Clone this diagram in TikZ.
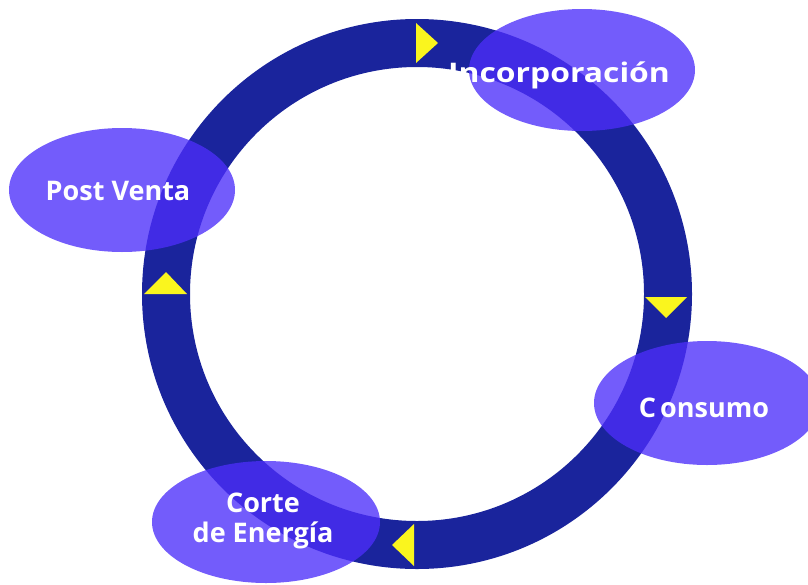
\documentclass[tikz,border=0pt]{standalone}
\usepackage{fontspec}
\setmainfont{Open Sans}
\usepackage{tikz}
\usetikzlibrary{positioning,shapes.geometric}
\usepackage{xcolor}
\definecolor{anillo}{RGB}{26,36,156}
\definecolor{lila}{RGB}{76,46,250}
\definecolor{flecha}{RGB}{250,245,30}

\begin{document}
\begin{tikzpicture}[x=1pt,y=-1pt,
    etapa/.style={ellipse, fill=lila, fill opacity=0.78, draw=none, inner sep=0pt,
      minimum width=226pt, minimum height=122pt},
    texto/.style={text=white, font=\bfseries\fontsize{27}{30}\selectfont, align=center, inner sep=0pt},
    punta/.style={fill=flecha}]
  \useasboundingbox (0,0) rectangle (808,584);

  % anillo
  \node[circle, draw=anillo, line width=48pt, minimum size=502pt, inner sep=0pt, outer sep=0pt] (ring) at (417,294) {};

  % flechas del ciclo
  \fill[punta] ([shift={(-1,-20)}]ring.north) -- ++(0,40) -- ++(22,-20) -- cycle;
  \fill[punta] ([shift={(-23,3)}]ring.east) -- ++(42,0) -- ++(-21,21) -- cycle;
  \fill[punta] ([shift={(-3,-21)}]ring.south) -- ++(0,42) -- ++(-22,-21) -- cycle;
  \fill[punta] ([shift={(-22,0)}]ring.west) -- ++(43,0) -- ++(-21,-22) -- cycle;

  % etapas
  \node[etapa] (inc) at (582,70) {};
  \node[etapa, minimum height=124pt] (post) at (122,190) {};
  \node[etapa, minimum height=124pt] (cons) at (707,403) {};
  \node[etapa, minimum width=228pt] (corte) at (266,522) {};

  % textos
  \node[texto, anchor=base, font=\bfseries\fontsize{27}{30}\selectfont\addfontfeature{FakeStretch=1.18}] (incT) at (559,82) {Incorporación};
  \node[texto, anchor=base] (postT) at (118,200) {Post Venta};
  \node[texto, anchor=base] (consT) at (704,417) {C\hspace{0.15em}onsumo};
  \node[texto] (corteT) at (263,521) {Corte\\de Energía};
\end{tikzpicture}
\end{document}
